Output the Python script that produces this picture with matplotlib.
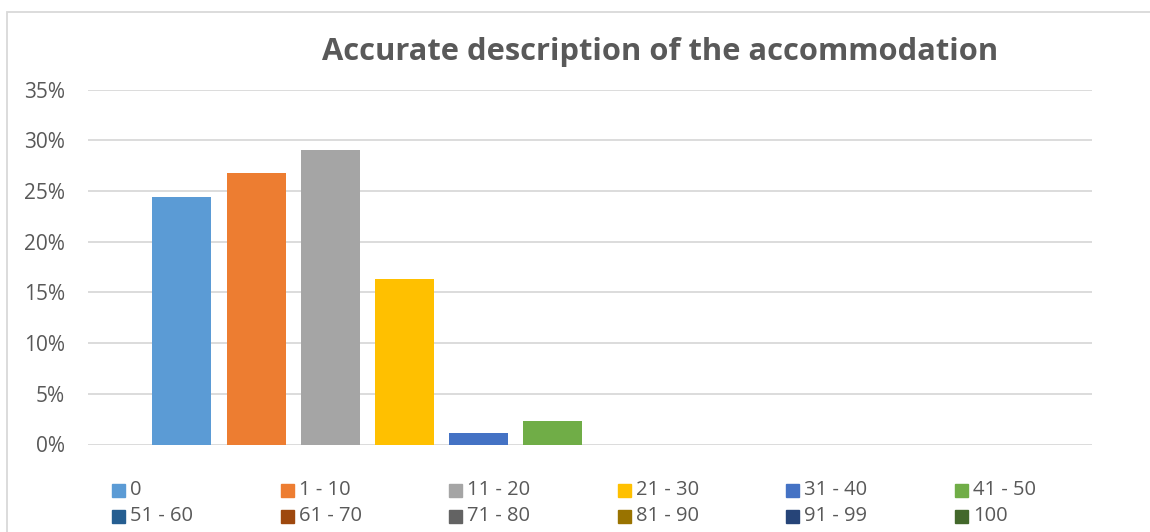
import matplotlib
matplotlib.use("Agg")
import matplotlib.pyplot as plt
from matplotlib.patches import Rectangle
from matplotlib.ticker import PercentFormatter

plt.rcParams['font.family'] = ['Open Sans', 'DejaVu Sans']

# data
labels = ['0', '1 - 10', '11 - 20', '21 - 30', '31 - 40', '41 - 50',
          '51 - 60', '61 - 70', '71 - 80', '81 - 90', '91 - 99', '100']
values = [0.244, 0.268, 0.2905, 0.163, 0.0113, 0.0232,
          0, 0, 0, 0, 0, 0]
colors = ['#5B9BD5', '#ED7D31', '#A5A5A5', '#FFC000', '#4472C4', '#70AD47',
          '#255E91', '#9E480E', '#636363', '#997300', '#264478', '#43682B']
title = 'Accurate description of the accommodation'

W, H = 1150, 532
fig = plt.figure(figsize=(W / 100, H / 100), dpi=100)
ax = fig.add_axes([88 / W, 1 - 444.5 / H, (1092 - 88) / W, (444.5 - 89.5) / H])

# one category, twelve series side by side
pitch = 74.2 / 1004
width = 59 / 1004
n = len(values)
for i, (v, c) in enumerate(zip(values, colors)):
    ax.bar(0.5 + (i - (n - 1) / 2) * pitch, v, width=width, color=c, zorder=3)

ax.set_xlim(0, 1)
ax.set_ylim(0, 0.35)
ax.set_yticks([0, 0.05, 0.10, 0.15, 0.20, 0.25, 0.30, 0.35])
ax.yaxis.set_major_formatter(PercentFormatter(1.0, decimals=0))
ax.set_xticks([])
ax.tick_params(axis='y', length=0, pad=16.5, labelsize=15, labelcolor='#595959')
ax.grid(axis='y', color='#D9D9D9', linewidth=1.3, zorder=0)
for s in ax.spines.values():
    s.set_visible(False)

fig.text(660 / W, 1 - 52 / H, title, ha='center', va='center',
         fontsize=22.2, fontweight='bold', color='#595959')

# chart area border
fig.patches.append(Rectangle((7 / W, -0.1), 1.2, 1 - 12 / H + 0.1,
                             transform=fig.transFigure, fill=False,
                             edgecolor='#D9D9D9', linewidth=1.3))

# legend, row by row like Excel
for i, (lab, c) in enumerate(zip(labels, colors)):
    col, row = i % 6, i // 6
    x0 = 112 + col * 168.6
    yc = 490 + row * 26
    fig.patches.append(Rectangle((x0 / W, 1 - (yc + 7) / H), 13 / W, 13 / H,
                                 transform=fig.transFigure, color=c))
    fig.text((x0 + 18) / W, 1 - yc / H, lab, ha='left', va='center',
             fontsize=14.5, color='#595959')

fig.savefig('out.png', dpi=100)
